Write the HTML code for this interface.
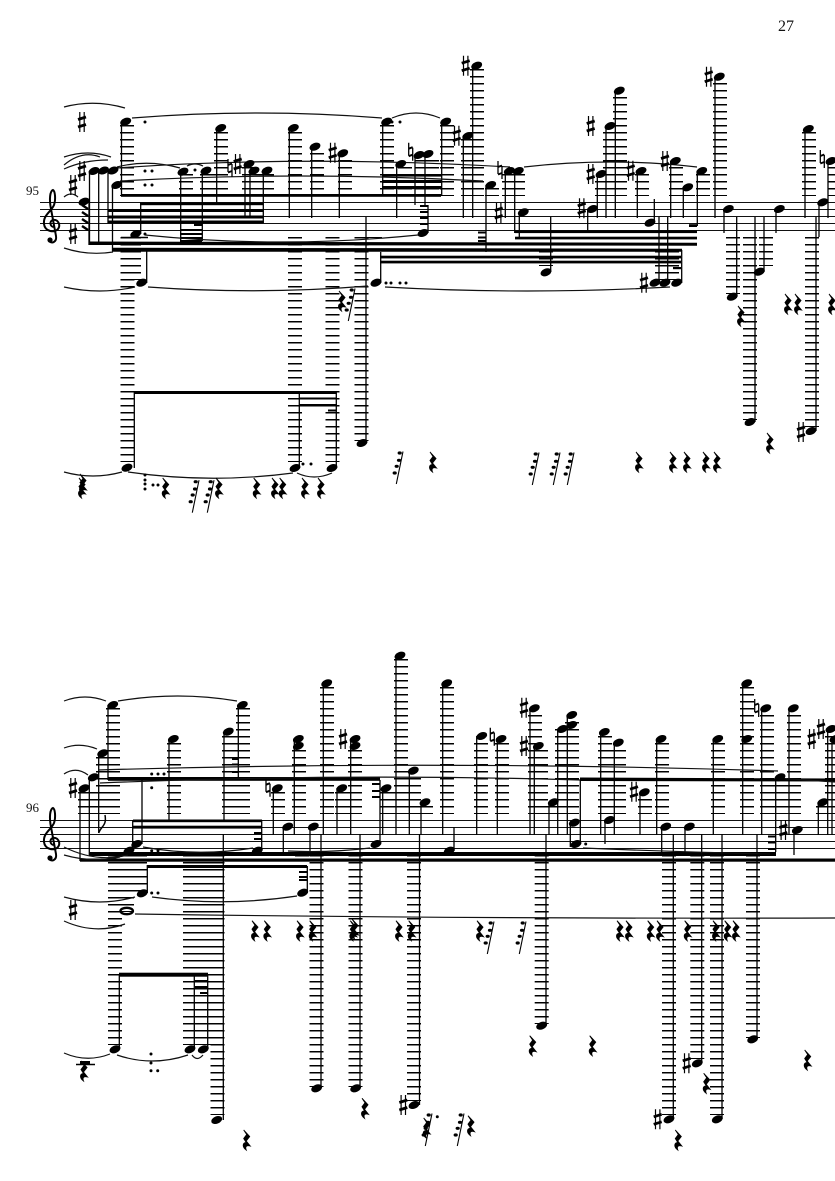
<!DOCTYPE html>
<html><head><meta charset="utf-8"><style>
html,body{margin:0;padding:0;background:#fff}
svg{display:block}
.S{fill:none;stroke:#000;stroke-width:1.3}
.T{fill:none;stroke:#111;stroke-width:1.2}
.L{fill:none;stroke:#000;stroke-width:1.5;stroke-dasharray:1.5 5.5}
.D{fill:none;stroke:#000;stroke-width:3;stroke-linecap:round}
text{font-family:"Liberation Serif",serif;fill:#111}
</style></head><body>
<svg xmlns="http://www.w3.org/2000/svg" width="835" height="1181" viewBox="0 0 835 1181">
<defs>
<ellipse id="n" rx="5.7" ry="3.7" transform="rotate(-22)"/>
<g id="s"><path d="M-2.2-10V10M2.2-10V10" stroke="#000" stroke-width="1.2" fill="none"/><path d="M-4-2.5L4-5M-4 5L4 2.5" stroke="#000" stroke-width="2.8" fill="none"/></g>
<g id="h"><path d="M-2-9V4M2-4V9" stroke="#000" stroke-width="1.3" fill="none"/><path d="M-2-3L2-4.5M-2 4.5L2 3" stroke="#000" stroke-width="1.9" fill="none"/></g>
<path id="r" d="M-3-10L3-3.5L-.5 1L3.5 6C.5 5-2 6-.5 10C-4.5 7-4.500 3-.5 2.5L-3-1.5L0-5.5Z" stroke="#000" stroke-width=".9"/>
<g id="f"><path d="M-2.700 16L4-16.500" stroke="#000" stroke-width="1.100" fill="none"/><ellipse cx=".7" cy="-15" rx="2.100" ry="1.600"/><ellipse cx="0" cy="-7.700" rx="2.100" ry="1.600"/><ellipse cx="-2.300" cy="-1.700" rx="2.100" ry="1.600"/><ellipse cx="-4.300" cy="5" rx="2.100" ry="1.600"/></g>
<g id="c"><path d="M1 4C-3 4-4-2 0-3C5-4 8 2 5 6C2 10-8 9-9 1C-10-8-2-11 1-18C3-24 2-32 0-33C-3-32-4-24-2-14L3 13C4 19-1 21-4 18" fill="none" stroke="#000" stroke-width="2"/><circle cx="-3" cy="17" r="2.600"/></g>
</defs>
<text x="778" y="31" font-size="16">27</text>
<text x="26" y="195" font-size="13">95</text>
<text x="26" y="812" font-size="13">96</text>

<!-- staves -->
<path d="M40 202.5H835M40 209.5H835M40 216.5H835M40 223.5H835M40 230.5H835M40 820.5H835M40 827.5H835M40 834.5H835M40 841.5H835M40 848.5H835" stroke="#111" stroke-width="1" fill="none"/>
<use href="#c" x="53" y="223"/><use href="#c" x="53" y="841"/>

<!-- ledger stacks -->
<path class="L" style="stroke-width:14" d="M127 125V196M186 174V196M207 174V196M221 132V196M249 167V196M254 174V196M267 174V196M295 132V196M317 153V196M345 160V196M387 125V196M405 167V196M422 160V196M432 160V196M447 125V196M468 139V196M477 69V196M492 188V196M509 174V196M518 174V196M602 181V196M610 132V196M620 97V196M642 174V196M676 167V196M688 195V196M703 174V196M720 83V196M809 132V196M835 167V196
M127.500 237V462M295 237V462M332.500 237V462M361.500 237V441M134 237V280M375 237V238M733 237V294M750 237V420M766 237V266M812 237V427M662 237V280M672 237V280M546 237V266
M85 792V814M95 792V814M103 757V814M113 708V814M174 743V814M229 736V814M243 708V814M278 792V814M299 750V814M327 687V814M342 792V814M355 750V814M387 792V814M401 659V814M414 778V814M426 806V814M447 687V814M481 743V814M502 743V814M535 715V814M541 750V814M553 806V814M562 729V814M572 722V814M605 736V814M619 750V814M645 799V814M662 743V814M718 743V814M747 687V814M767 715V814M781 785V814M794 715V814M823 806V814M832 736V814
M115 855V1045M127 855V912M140 855V894M190 855V1045M203.500 855V1045M217.500 855V1115M302 855V857M316.500 855V1087M355.500 855V1087M414 855V1101M541.700 855V1024M669 855V1115M697.300 855V1059M717 855V1115M753 855V1038"/>
<path d="M121 237.5H148M76 1064.5H95" stroke="#000" stroke-width="1.500"/>

<!-- beams -->
<g>
<rect x="121" y="194" width="320" height="2.8"/>
<rect x="382" y="174" width="60" height="2.6"/><rect x="382" y="180" width="60" height="3"/><rect x="382" y="186" width="60" height="3.2"/>
<rect x="140" y="202.500" width="123" height="2.700"/><rect x="108" y="209" width="155" height="3"/><rect x="108" y="215.500" width="155" height="3"/><rect x="108" y="220.500" width="155" height="2.800"/>
<rect x="194" y="223.500" width="8" height="2.500"/><rect x="180" y="229" width="22" height="2"/><rect x="180" y="233" width="22" height="2"/><rect x="180" y="237" width="22" height="2"/><rect x="180" y="240" width="22" height="2"/>
<rect x="420" y="205" width="8" height="2"/><rect x="420" y="211" width="8" height="2"/><rect x="420" y="217" width="8" height="2"/><rect x="420" y="223" width="8" height="2"/>
<path d="M89 241.500L697 242.700V245.700L89 245Z M112 247.700L682 248.700V251.700L112 251.700Z"/>
<rect x="515" y="230.300" width="182" height="2.800"/><rect x="515" y="236.700" width="182" height="2.700"/>
<rect x="380" y="255.700" width="301" height="2.700"/><rect x="380" y="260.700" width="301" height="2.700"/>
<rect x="478" y="231.500" width="8" height="2"/><rect x="478" y="236.500" width="8" height="2"/><rect x="478" y="240" width="8" height="2"/>
<rect x="673" y="267" width="8" height="2.200"/><rect x="689" y="224.200" width="8" height="2.800"/>
<rect x="134" y="391" width="202" height="3"/><rect x="299" y="397.500" width="38" height="2"/><rect x="299" y="404" width="38" height="2.500"/><rect x="328" y="409.500" width="8" height="2"/>
<rect x="108" y="777" width="272" height="3.800"/><rect x="232" y="758" width="6" height="2"/><rect x="232" y="763.500" width="6" height="2"/><rect x="232" y="771" width="6" height="2"/>
<rect x="372" y="783" width="8" height="2"/><rect x="372" y="790" width="8" height="2"/><rect x="372" y="796" width="8" height="2"/>
<path d="M580 777.500L835 778.500V781.500L580 781Z"/>
<rect x="133" y="819.500" width="129" height="2.700"/><rect x="133" y="825.700" width="129" height="2.900"/><rect x="254" y="832" width="8" height="2"/><rect x="254" y="838" width="8" height="2"/>
<path d="M89 852H776V856H89Z"/><rect x="80" y="858.500" width="755" height="3.200"/>
<rect x="147" y="865" width="160" height="3"/><rect x="299" y="871" width="8" height="2"/><rect x="299" y="876" width="8" height="2"/><rect x="299" y="879" width="8" height="2"/>
<rect x="768" y="835.500" width="8" height="2"/><rect x="768" y="841.500" width="8" height="2"/><rect x="768" y="848" width="8" height="2"/>
<rect x="119" y="972.700" width="89" height="4"/><rect x="195" y="980" width="13" height="2"/><rect x="195" y="986" width="13" height="2.500"/><rect x="200" y="992" width="8" height="2"/>
</g>

<!-- stems -->
<path class="S" d="M89.500 171V245M98.700 171V245M108 171V223M112.500 185V251M89 201V245M121.500 122V196M140.700 203V234M134.300 392V468M146.700 251V283M180.700 172V242M202.300 171V241M216.700 128V204M245 164V218M250 171V218M263.300 171V223M289.300 128V218M311.700 147V218M339.300 153V218M299.300 392V468M336.300 392V468M366 217V443M380.700 252V283M382.700 122V196M396.700 164V218M415 155V205M425 154V205M428 205V233M441.700 122V196M463.300 136V218M472.700 66V218M486 185V252M505.300 171V218M514.700 171V233M519.300 212V238M550.700 217V272M587.700 209V231M597.300 174V218M606 126V218M615.300 91V218M637.300 171V218M654.300 199V223M670.700 161V218M683.300 187V218M697.300 171V226M715 77V218M659 217V283M667.700 217V283M681.700 250V283M724 209V233M736.700 217V297M764 217V272M755 217V422M816 217V431M776 209V233M805 129V218M819 202V237M828 161V218
M80 788V861M89.300 777V855M98.700 753V833M108 705V780M142 780V844M132.700 820V851M169 739V821M224 732V821M238.300 705V780M261.700 820V851M223.300 834V1120M273.300 788V835M283.300 827V853M294.300 739V835M310 827V853M323.300 683V835M337 788V835M350.700 739V835M382.700 788V835M380 780V844M396 656V835M409.300 771V835M421 802V835M442.700 683V835M454 827V851M476.700 736V835M497.300 739V835M530 708V835M534.300 746V835M549 802V835M557.700 729V835M567.300 715V835M570.300 823V847M580.300 780V844M600.700 732V835M605 820V844M614.300 743V835M640 792V835M656.700 739V835M661.700 827V852M685 827V852M713.300 739V835M742.700 683V835M761.700 708V835M775.700 777V852M789 708V835M794 830V855M818.300 802V835M827.700 729V835M832 739V835
M119.300 975V1049M147.300 865V893M194.300 975V1049M207.700 975V1049M307.300 866V893M321 834V1088M360 834V1088M419.500 834V1105M546 834V1026M673.300 834V1119M701.700 834V1063M722 834V1119M757 834V1039"/>

<!-- slurs and ties -->
<path class="T" d="M64 107Q94 99 125 108M64 157Q88 149 111 157M64 165Q82 150 100 157M64 169Q84 160 108 160M64 197Q71 191 78 197M132 118Q257 108 382 118M392 118Q416 108 440 118M117 167Q148 159 180 168M187 166Q195 162 203 166M117 168Q300 155 510 167M120 181Q300 171 483 181M524 167Q610 157 697 167M64 248Q88 256 113 252M145 235Q281 249 418 235M64 287Q100 295 135 287M148 287Q258 295 368 286M385 287Q527 295 670 287M64 472Q93 480 122 472M128 472Q210 484 293 473M297 473Q314 481 332 473
M64 701Q85 693 106 701M118 701Q178 691 237 701M64 748Q80 742 97 749M64 774Q76 766 88 775M98 770Q438 760 778 771M100 783Q340 773 580 780M776 778Q805 780 835 782M64 847Q96 863 128 855M64 855Q92 863 120 857M143 847Q198 857 253 848M288 851Q329 853 370 848M583 848Q676 852 770 854M64 897Q100 907 135 897M152 897Q224 907 297 896M135 914Q480 919 835 918M64 921Q95 935 125 924M64 1053Q87 1063 110 1054M117 1055Q152 1067 188 1055M192 1055Q197 1062 203 1055"/>

<!-- dots -->
<path class="D" d="M145 122h0M145 171h0M152 171h0M145 185h0M152 185h0M195 170h0M145 234h0M392 122h0M400 122h0M386 283h0M391 283h0M400 283h0M406 283h0M145 475h0M145 480h0M145 484h0M145 489h0M153 485h0M158 485h0M303 464h0M311 464h0M151.700 774h0M158 774h0M164 774h0M151.700 787.700h0M151.700 850.700h0M158 850.700h0M151.700 893h0M158 893h0M151 1054h0M151 1063h0M151 1070.700h0M157.700 1070.700h0M585.700 844h0M437.300 1116.700h0"/>

<!-- noteheads system 1 -->
<use href="#n" x="94" y="171"/><use href="#n" x="103.500" y="170.500"/><use href="#n" x="113" y="170.500"/><use href="#n" x="116.700" y="185"/><use href="#n" x="84" y="201.700"/><use href="#n" x="125.700" y="121.700"/><use href="#n" x="135.700" y="234"/><use href="#n" x="141.700" y="282.700"/><use href="#n" x="127" y="467.700"/><use href="#n" x="183" y="171.700"/><use href="#n" x="206" y="170.700"/><use href="#n" x="220.700" y="128"/><use href="#n" x="249" y="164"/><use href="#n" x="254" y="170.700"/><use href="#n" x="267" y="170.700"/><use href="#n" x="293.300" y="128"/><use href="#n" x="295" y="468"/><use href="#n" x="315" y="146.700"/><use href="#n" x="342.700" y="153.300"/><use href="#n" x="332" y="468"/><use href="#n" x="362" y="443"/><use href="#n" x="376" y="282.700"/><use href="#n" x="386.700" y="121.700"/><use href="#n" x="400.700" y="164"/><use href="#n" x="419" y="155"/><use href="#n" x="428" y="154"/><use href="#n" x="423" y="233"/><use href="#n" x="445.700" y="121.700"/><use href="#n" x="467.700" y="136"/><use href="#n" x="476.700" y="65.700"/><use href="#n" x="490.700" y="185"/><use href="#n" x="509.300" y="171"/><use href="#n" x="518.300" y="171"/><use href="#n" x="523.300" y="212.300"/><use href="#n" x="546" y="272.300"/><use href="#n" x="592.300" y="209"/><use href="#n" x="601" y="174"/><use href="#n" x="610" y="126"/><use href="#n" x="619.300" y="90.700"/><use href="#n" x="641" y="171"/><use href="#n" x="650" y="222.700"/><use href="#n" x="675.300" y="161"/><use href="#n" x="687.700" y="187.300"/><use href="#n" x="701.700" y="171"/><use href="#n" x="719.300" y="76.700"/><use href="#n" x="655" y="282.700"/><use href="#n" x="665" y="282.700"/><use href="#n" x="676.700" y="282.700"/><use href="#n" x="728.300" y="209"/><use href="#n" x="732.300" y="296.700"/><use href="#n" x="759.300" y="271.700"/><use href="#n" x="750" y="422"/><use href="#n" x="811" y="431"/><use href="#n" x="779.300" y="209"/><use href="#n" x="808.300" y="129"/><use href="#n" x="822.700" y="202.300"/><use href="#n" x="831" y="161"/>

<!-- noteheads system 2 -->
<use href="#n" x="84" y="788.300"/><use href="#n" x="93.300" y="777.300"/><use href="#n" x="102.700" y="753.300"/><use href="#n" x="112.700" y="705"/><use href="#n" x="136.700" y="844"/><use href="#n" x="129" y="850.700"/><use href="#n" x="173.300" y="739"/><use href="#n" x="228.300" y="731.700"/><use href="#n" x="242.300" y="705"/><use href="#n" x="257.300" y="850.700"/><use href="#n" x="277.300" y="788.300"/><use href="#n" x="287.700" y="826.700"/><use href="#n" x="298.300" y="739"/><use href="#n" x="298.300" y="746"/><use href="#n" x="313.300" y="826.700"/><use href="#n" x="326.700" y="683.300"/><use href="#n" x="341.700" y="788.300"/><use href="#n" x="355" y="739"/><use href="#n" x="355" y="746"/><use href="#n" x="386" y="788.300"/><use href="#n" x="376" y="844"/><use href="#n" x="400" y="655.700"/><use href="#n" x="413.300" y="770.700"/><use href="#n" x="425" y="802.300"/><use href="#n" x="446.700" y="683.300"/><use href="#n" x="449.300" y="850.700"/><use href="#n" x="481.700" y="736"/><use href="#n" x="501" y="739"/><use href="#n" x="534.300" y="708.300"/><use href="#n" x="538.300" y="746"/><use href="#n" x="553.300" y="802.300"/><use href="#n" x="562.300" y="729"/><use href="#n" x="571.700" y="715"/><use href="#n" x="571.700" y="725"/><use href="#n" x="574.300" y="822.700"/><use href="#n" x="576" y="844"/><use href="#n" x="604.300" y="732"/><use href="#n" x="609.300" y="820"/><use href="#n" x="618.300" y="742.700"/><use href="#n" x="644.300" y="792.300"/><use href="#n" x="661" y="739"/><use href="#n" x="665.700" y="826.700"/><use href="#n" x="689.300" y="826.700"/><use href="#n" x="717.700" y="739"/><use href="#n" x="746.700" y="683.300"/><use href="#n" x="746.700" y="739"/><use href="#n" x="765.700" y="708.300"/><use href="#n" x="780" y="777.300"/><use href="#n" x="793.300" y="708.300"/><use href="#n" x="797.300" y="830"/><use href="#n" x="822.700" y="802.300"/><use href="#n" x="831" y="729"/><use href="#n" x="835" y="739"/>
<use href="#n" x="115" y="1049.300"/><use href="#n" x="142.300" y="893.300"/><use href="#n" x="190" y="1049.300"/><use href="#n" x="203.300" y="1049.300"/><use href="#n" x="216.700" y="1120"/><use href="#n" x="302.700" y="892.700"/><use href="#n" x="316.700" y="1088.300"/><use href="#n" x="355.700" y="1088.300"/><use href="#n" x="414" y="1105"/><use href="#n" x="541.700" y="1025.700"/><use href="#n" x="669" y="1119.300"/><use href="#n" x="697.300" y="1063.300"/><use href="#n" x="717.300" y="1119.300"/><use href="#n" x="752.700" y="1039.300"/>
<ellipse cx="126.700" cy="911" rx="6.200" ry="3.200" fill="none" stroke="#000" stroke-width="2.400"/>
<path d="M98.700 833C101 826 107 826 105 815" fill="none" stroke="#000" stroke-width="1.500"/>
<path d="M82 205L88 209M82 212L88 216M82 219L88 223M82 226L88 230" stroke="#000" stroke-width="2.400" fill="none"/>

<!-- sharps -->
<use href="#s" x="82" y="122"/><use href="#s" x="82" y="171"/><use href="#s" x="73" y="185"/><use href="#s" x="73" y="234"/><use href="#s" x="237.700" y="164"/><use href="#s" x="332.700" y="152.700"/><use href="#s" x="465.700" y="65.700"/><use href="#s" x="456.700" y="135.700"/><use href="#s" x="498.700" y="213"/><use href="#s" x="581.700" y="208.300"/><use href="#s" x="590.700" y="174"/><use href="#s" x="590.700" y="126"/><use href="#s" x="630.700" y="170.700"/><use href="#s" x="665" y="161"/><use href="#s" x="708.700" y="76.700"/><use href="#s" x="644" y="282.700"/><use href="#s" x="801" y="432"/>
<use href="#s" x="73" y="788"/><use href="#s" x="73" y="910"/><use href="#s" x="343" y="739"/><use href="#s" x="403.300" y="1105"/><use href="#s" x="524" y="707.700"/><use href="#s" x="524" y="746"/><use href="#s" x="634" y="791.700"/><use href="#s" x="783.300" y="830"/><use href="#s" x="811.700" y="739"/><use href="#s" x="821" y="729"/><use href="#s" x="657.700" y="1119.300"/><use href="#s" x="686.700" y="1063.300"/>
<!-- naturals -->
<use href="#h" x="230" y="168"/><use href="#h" x="410.700" y="151.700"/><use href="#h" x="500" y="170"/><use href="#h" x="822.300" y="159"/><use href="#h" x="268" y="787.700"/><use href="#h" x="492.300" y="736.700"/><use href="#h" x="756.700" y="708"/>

<!-- rests -->
<use href="#r" x="82" y="488"/><use href="#r" x="83" y="484"/><use href="#r" x="165.700" y="488"/><use href="#r" x="219" y="488"/><use href="#r" x="256.700" y="488"/><use href="#r" x="275" y="488"/><use href="#r" x="282.700" y="488"/><use href="#r" x="305" y="488"/><use href="#r" x="321" y="488"/><use href="#r" x="433" y="462"/><use href="#r" x="639" y="462"/><use href="#r" x="673" y="462"/><use href="#r" x="687" y="462"/><use href="#r" x="706" y="462"/><use href="#r" x="717" y="462"/><use href="#r" x="770" y="443"/><use href="#r" x="741" y="316"/><use href="#r" x="788" y="304"/><use href="#r" x="798" y="304"/><use href="#r" x="832" y="304"/><use href="#r" x="342" y="301"/>
<use href="#f" x="195" y="496.700"/><use href="#f" x="210" y="496.700"/><use href="#f" x="399" y="468"/><use href="#f" x="535" y="469"/><use href="#f" x="556" y="469"/><use href="#f" x="570" y="469"/><use href="#f" x="351" y="305"/>
<use href="#r" x="255" y="930.700"/><use href="#r" x="267.300" y="930.700"/><use href="#r" x="300" y="930.700"/><use href="#r" x="312.700" y="930.700"/><use href="#r" x="353.300" y="930.700"/><use href="#r" x="355" y="929"/><use href="#r" x="399" y="930.700"/><use href="#r" x="411.700" y="930.700"/><use href="#r" x="480" y="930.700"/><use href="#r" x="620" y="930.700"/><use href="#r" x="629" y="930.700"/><use href="#r" x="650.700" y="930.700"/><use href="#r" x="660" y="930.700"/><use href="#r" x="687.700" y="930.700"/><use href="#r" x="716" y="930.700"/><use href="#r" x="727.700" y="930.700"/><use href="#r" x="736" y="930.700"/><use href="#r" x="532.700" y="1045.700"/><use href="#r" x="592.700" y="1045.700"/><use href="#r" x="807.700" y="1060"/><use href="#r" x="706.700" y="1083.300"/><use href="#r" x="678.300" y="1140"/><use href="#r" x="365" y="1108.300"/><use href="#r" x="246.700" y="1140"/><use href="#r" x="471" y="1125.700"/><use href="#r" x="426.700" y="1128"/><use href="#r" x="84" y="1071"/>
<use href="#f" x="490" y="938"/><use href="#f" x="522" y="938"/><use href="#f" x="428" y="1130"/><use href="#f" x="460" y="1130"/>
<rect x="80" y="1061" width="10" height="4"/>
</svg>
</body></html>
